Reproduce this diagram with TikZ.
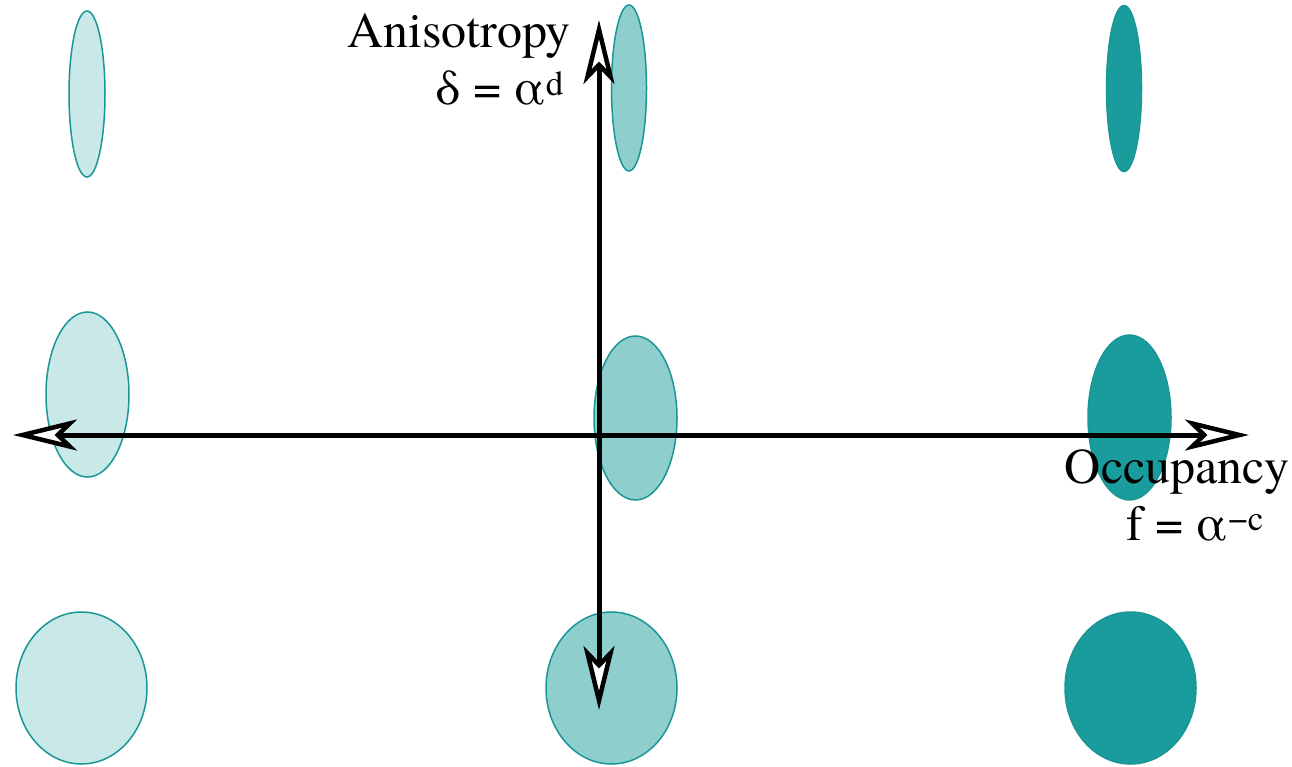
\documentclass[tikz,border=0pt]{standalone}
\usepackage{fontspec}
\newfontfamily\termes{texgyretermes-regular.otf}
\usetikzlibrary{arrows.meta}
\definecolor{tealline}{HTML}{1A9696}
\definecolor{fillA}{HTML}{C9E8E8}
\definecolor{fillB}{HTML}{8ECFCE}
\definecolor{fillC}{HTML}{1A9C9C}
\tikzset{
  blob/.style={draw=tealline, line width=1.5pt},
  axisline/.style={line width=5pt, line cap=butt,
    {Stealth[length=64pt, width=31pt, inset=16pt, fill=white, line width=4.5pt]}-{Stealth[length=64pt, width=31pt, inset=16pt, fill=white, line width=4.5pt]}},
  lbl/.style={font=\termes\fontsize{50}{57}\selectfont, inner sep=0pt, align=right}
}
\begin{document}
\begin{tikzpicture}[x=1pt,y=-1pt]
\useasboundingbox (0,0) rectangle (1292,767);
% row 1
\draw[blob, fill=fillA] (87,94) ellipse [x radius=18, y radius=83];
\draw[blob, fill=fillB] (629,88) ellipse [x radius=17.5, y radius=83];
\draw[blob, fill=fillC] (1124,88.5) ellipse [x radius=17.5, y radius=83];
% row 2
\draw[blob, fill=fillA] (87.5,394.5) ellipse [x radius=41.5, y radius=82.5];
\draw[blob, fill=fillB] (635.5,418) ellipse [x radius=41.5, y radius=82];
\draw[blob, fill=fillC] (1129.5,417.5) ellipse [x radius=41.5, y radius=82.5];
% row 3
\draw[blob, fill=fillA] (81.5,688) ellipse [x radius=65.5, y radius=76];
\draw[blob, fill=fillB] (611.5,688) ellipse [x radius=65.5, y radius=76];
\draw[blob, fill=fillC] (1130.5,688) ellipse [x radius=65.5, y radius=76];
% axes
\coordinate (hl) at (13,435);
\coordinate (hr) at (1249,435);
\coordinate (vt) at (599,20);
\coordinate (vb) at (599,710);
\draw[axisline] (hl) -- (hr);
\draw[axisline] (vt) -- (vb);
% labels
\node[lbl, anchor=north east] (aniso) at (571,14) {Anisotropy\\δ = α\textsuperscript{d}\hspace*{7pt}};
\node[lbl, anchor=north east] (occ) at (1290,449) {Occupancy\\f = α\textsuperscript{−c}\hspace*{26pt}};
\end{tikzpicture}
\end{document}
